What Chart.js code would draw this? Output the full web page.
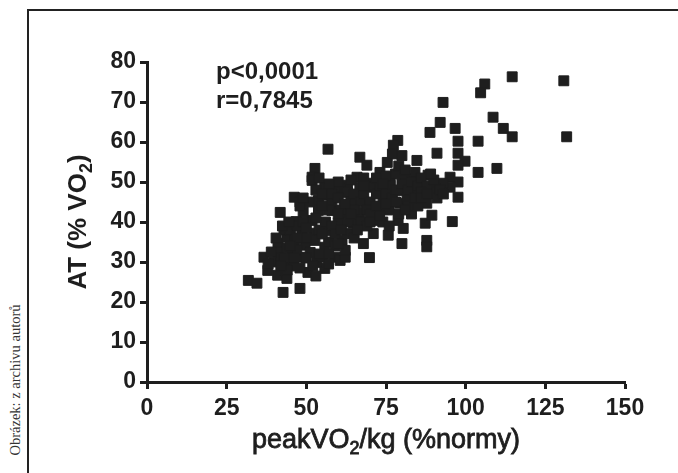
<!DOCTYPE html>
<html>
<head>
<meta charset="utf-8">
<script src="https://cdn.jsdelivr.net/npm/chart.js@4.4.1/dist/chart.umd.min.js"></script>
<style>
  html, body { margin: 0; padding: 0; background: #fff; }
  #wrap { position: relative; width: 678px; height: 473px; overflow: hidden; }
  #frame { position: absolute; left: 27px; top: 9px; width: 720px; height: 520px; border: 2px solid #222; box-sizing: border-box; }
  #credit { position: absolute; left: 15px; top: 380px; transform: translate(-50%, -50%) rotate(-90deg); font: 14.5px 'Liberation Serif', serif; color: #333; white-space: nowrap; }
  canvas { position: absolute; left: 0; top: 0; }
</style>
</head>
<body>
<div id="wrap">
  <div id="frame"></div>
  <div id="credit">Obrázek: z archivu autorů</div>
  <canvas id="scatterChart" width="678" height="473"></canvas>
</div>
<script>
// peakVO2/kg (% normy) vs AT (% VO2)
const peakVO2 = [
  114.6, 130.8, 131.7, 114.6, 111.8, 108.6, 106.0, 104.7, 103.9, 103.9,
  109.8, 92.9, 92.0, 88.8, 91.0, 96.7, 97.6, 97.6, 99.8, 97.6,
  97.6, 97.6, 95.8, 95.1, 95.1, 92.9, 90.4, 88.2, 84.1, 81.0,
  80.0, 86.4, 78.7, 77.3, 84.7, 80.0, 75.4, 73.1, 76.3, 70.0,
  66.8, 69.0, 65.9, 62.9, 60.6, 56.8, 52.7, 51.8, 55.8, 46.2,
  48.0, 41.8, 46.8, 36.7, 31.8, 34.5, 42.7, 48.0, 37.9, 41.0,
  43.9, 43.3, 50.5, 55.8, 53.3, 41.1, 41.1, 43.9, 46.4, 48.6,
  49.6, 51.2, 45.5, 48.6, 52.7, 51.8, 53.8, 53.8, 56.8, 59.0,
  58.0, 60.0, 56.8, 55.8, 59.0, 55.0, 52.7, 60.6, 61.2, 51.8,
  62.2, 62.2, 69.8, 67.9, 71.0, 75.7, 80.0, 80.4, 78.8, 87.8,
  87.8, 87.3, 89.4, 62.9, 64.7, 71.0, 62.9, 66.8, 74.1, 79.4,
  81.6, 87.8, 84.7, 88.8, 71.0, 66.8, 62.9, 76.3,
  40, 42, 44, 46, 47, 44, 43, 45, 47, 49,
  50, 50, 52, 54, 54, 56, 57, 58, 58, 59,
  61, 57, 55, 49, 51, 53, 55, 58, 60, 64,
  65, 67, 68, 70, 72, 73, 75, 77, 78, 80,
  82, 83, 85, 86, 88, 90, 91, 92, 69, 73,
  76, 65, 67, 69, 74, 76, 83, 85, 82, 78,
  79, 81, 77, 75, 72, 68, 64, 60, 57, 54,
  63, 65, 70, 72, 79, 84, 86, 89, 93, 47,
  45, 43, 46, 48, 53, 57, 39, 38, 44, 42,
  50, 48, 60, 62, 59,
  40.5, 42.5, 44.5, 49, 53, 55, 57, 61, 64, 66,
  70, 73, 75, 78, 81, 86, 88, 68, 74, 60
];
const atVO2 = [
  76.3, 75.3, 61.3, 61.3, 63.4, 66.2, 74.5, 72.3, 60.2, 52.4,
  53.4, 69.9, 64.9, 62.4, 57.2, 63.4, 60.2, 57.2, 55.2, 54.2,
  50.0, 46.2, 40.1, 51.2, 48.7, 49.7, 48.4, 51.7, 52.4, 50.9,
  47.9, 45.4, 60.4, 59.2, 55.4, 56.6, 54.9, 52.4, 50.4, 49.7,
  56.2, 54.2, 51.2, 49.2, 48.4, 58.2, 53.4, 51.2, 49.2, 46.2,
  45.0, 42.4, 40.1, 31.2, 25.4, 24.7, 22.4, 23.4, 27.9, 26.7,
  25.9, 27.9, 27.4, 28.4, 29.9, 34.7, 32.5, 36.2, 35.4, 37.1,
  34.2, 32.4, 32.5, 31.2, 37.2, 40.4, 42.9, 45.4, 46.7, 48.7,
  42.9, 39.7, 37.9, 33.7, 31.2, 31.2, 35.4, 30.4, 35.4, 50.4,
  31.2, 32.9, 31.1, 34.6, 37.1, 36.7, 34.6, 38.4, 40.4, 35.4,
  33.8, 39.7, 41.7, 37.1, 39.7, 40.4, 42.2, 42.4, 45.9, 44.7,
  45.9, 44.7, 47.9, 47.4, 48.7, 48.7, 47.4, 49.2,
  30, 31, 30, 29, 33, 33.5, 38, 38, 39, 40,
  36, 31, 29, 32, 38, 40, 35, 39, 45, 37,
  43, 43, 44, 42.5, 45, 48, 47, 47, 46, 45,
  47, 45, 47, 45, 47, 49, 47, 46, 48, 49.5,
  48, 50, 49, 51, 49, 50.5, 46, 48, 43, 43,
  43, 36, 40, 39, 40, 39, 42, 44, 44, 52,
  54, 53, 57, 51.5, 51, 51, 50.5, 50, 49.5, 51,
  40, 43, 42, 44, 42, 46, 47.5, 52, 47, 36,
  34, 31, 31, 28.5, 26.5, 29.5, 32.5, 29.5, 28, 29,
  38.5, 44, 42, 44.5, 34,
  36, 39, 40, 46, 41, 37, 32, 38, 42, 38,
  40, 41.5, 44.5, 45, 43, 46, 47, 49, 49.5, 34.5
];
const xTicks = [0, 25, 50, 75, 100, 125, 150];
const yTicks = [0, 10, 20, 30, 40, 50, 60, 70, 80];
const statLines = ['p<0,0001', 'r=0,7845'];
const xTitleParts = [['peakVO', false], ['2', true], ['/kg (%normy)', false]];
const yTitleParts = [['AT (% VO', false], ['2', true], [')', false]];

const ink = '#1e1e1e';
const sans = '"Liberation Sans", Arial, sans-serif';

// draws text with a subscript part, centred on cx; stroke thickens regular weight a bit
function drawParts(ctx, parts, cx, baseY, size, weight, stroke) {
  const subSize = Math.round(size * 0.68);
  let total = 0;
  parts.forEach(([t, sub]) => {
    ctx.font = weight + ' ' + (sub ? subSize : size) + 'px ' + sans;
    total += ctx.measureText(t).width;
  });
  let x = cx - total / 2;
  ctx.textAlign = 'left';
  ctx.textBaseline = 'alphabetic';
  parts.forEach(([t, sub]) => {
    ctx.font = weight + ' ' + (sub ? subSize : size) + 'px ' + sans;
    const y = sub ? baseY + size * 0.22 : baseY;
    ctx.fillText(t, x, y);
    if (stroke) ctx.strokeText(t, x, y);
    x += ctx.measureText(t).width;
  });
}

const textPlugin = {
  id: 'figureTexts',
  afterDraw(chart) {
    const { ctx, chartArea: a } = chart;
    ctx.save();
    ctx.fillStyle = ink;
    ctx.strokeStyle = ink;

    // statistics in the upper left of the plot
    ctx.font = 'bold 24px ' + sans;
    ctx.textAlign = 'left';
    ctx.textBaseline = 'alphabetic';
    ctx.fillText(statLines[0], a.left + 69, a.top + 17);
    ctx.fillText(statLines[1], a.left + 69, a.top + 46);

    // x axis title
    ctx.lineWidth = 0.8;
    drawParts(ctx, xTitleParts, (a.left + a.right) / 2, a.bottom + 66, 27, 'normal', true);

    // y axis title (rotated)
    ctx.translate(a.left - 61, (a.top + a.bottom) / 2);
    ctx.rotate(-Math.PI / 2);
    drawParts(ctx, yTitleParts, 0, 0, 26, 'bold', false);
    ctx.restore();
  }
};

new Chart(document.getElementById('scatterChart'), {
  type: 'scatter',
  data: {
    datasets: [{
      data: peakVO2.map((x, i) => ({ x: x, y: atVO2[i] })),
      pointStyle: 'rect',
      pointRadius: 7,
      pointHoverRadius: 7,
      backgroundColor: ink,
      borderColor: ink,
      borderWidth: 1
    }]
  },
  options: {
    responsive: false,
    animation: false,
    layout: { padding: { left: 0, top: 62, right: 53, bottom: 0 } },
    plugins: {
      legend: { display: false },
      tooltip: { enabled: false }
    },
    scales: {
      x: {
        type: 'linear',
        min: 0,
        max: 150,
        afterBuildTicks: s => { s.ticks = xTicks.map(v => ({ value: v })); },
        afterFit: s => { s.height = 91; },
        border: { display: true, width: 3, color: ink },
        grid: { drawOnChartArea: false, drawTicks: true, tickLength: 7, tickWidth: 3, tickColor: ink },
        ticks: { color: ink, padding: 6, font: { family: sans, size: 23, weight: 'bold' }, maxRotation: 0 }
      },
      y: {
        type: 'linear',
        min: 0,
        max: 80,
        afterBuildTicks: s => { s.ticks = yTicks.map(v => ({ value: v })); },
        afterFit: s => { s.width = 147; },
        border: { display: true, width: 3, color: ink },
        grid: { drawOnChartArea: false, drawTicks: true, tickLength: 7, tickWidth: 3, tickColor: ink },
        ticks: { color: ink, padding: 4, font: { family: sans, size: 23, weight: 'bold' } }
      }
    }
  },
  plugins: [textPlugin]
});
</script>
</body>
</html>
